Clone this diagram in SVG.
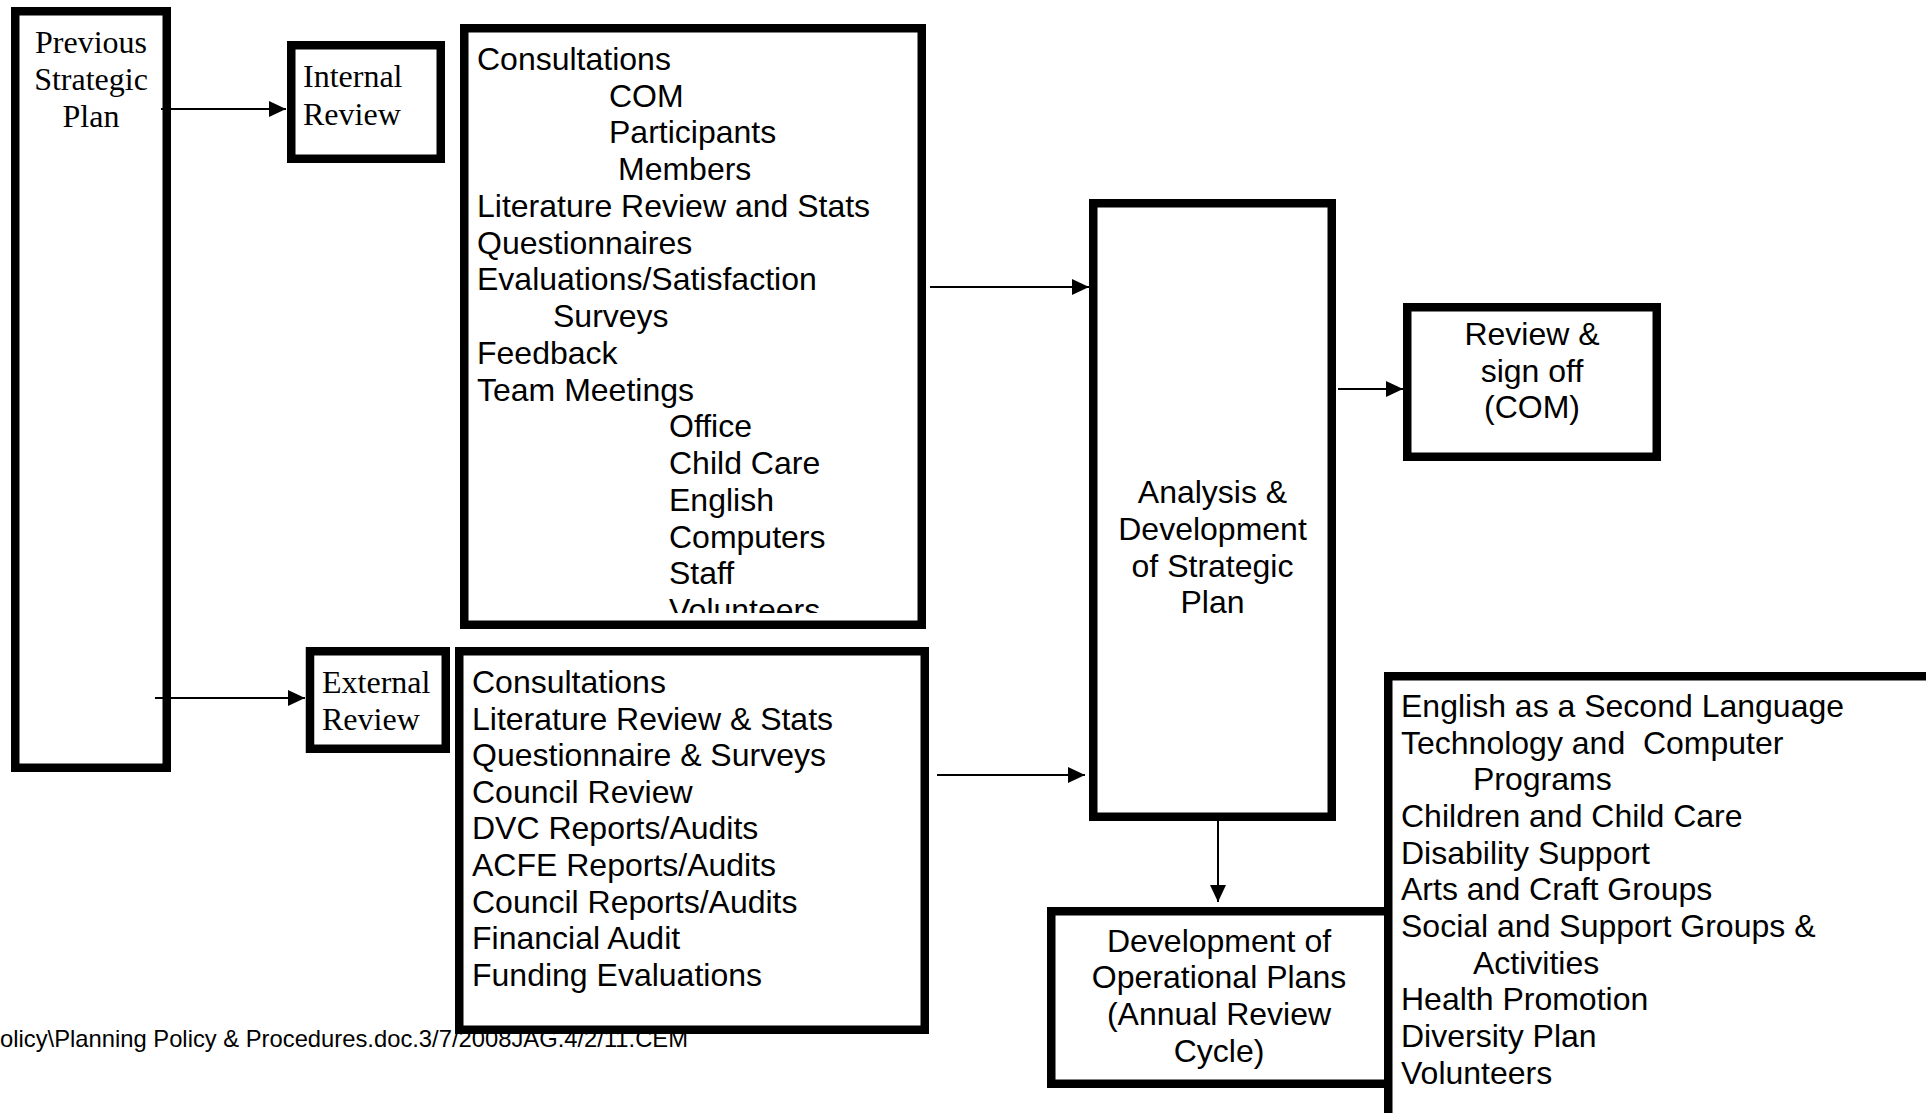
<svg xmlns="http://www.w3.org/2000/svg" width="1926" height="1113" viewBox="0 0 1926 1113">
<style>
.box{fill:#fff;stroke:#000;stroke-width:8.5}
.serif{font-family:"Liberation Serif","Times New Roman",serif;font-size:32px;fill:#000}
.sans{font-family:"Liberation Sans",Arial,sans-serif;font-size:32px;fill:#000}
.mid{text-anchor:middle}
.conn{stroke:#000;stroke-width:2;fill:none;marker-end:url(#arr)}
</style>
<defs>
<marker id="arr" markerUnits="userSpaceOnUse" markerWidth="17" markerHeight="16" refX="17" refY="8" orient="auto">
<path d="M0,0 L17,8 L0,16 z" fill="#000"/>
</marker>
<clipPath id="clipInt"><rect x="468" y="32" width="450" height="581"/></clipPath>
</defs>
<rect width="1926" height="1113" fill="#fff"/>

<g id="previous-plan">
<rect class="box" x="15.25" y="11.25" width="151.5" height="756.5"/>
<text class="serif mid"><tspan x="91" y="53">Previous</tspan><tspan x="91" y="90">Strategic</tspan><tspan x="91" y="127">Plan</tspan></text>
</g>

<g id="internal-review">
<rect class="box" x="291.25" y="45.25" width="149.5" height="113.5"/>
<text class="serif"><tspan x="303" y="87">Internal</tspan><tspan x="303" y="125">Review</tspan></text>
</g>

<g id="internal-list">
<rect class="box" x="464.25" y="28.25" width="457.5" height="596.5"/>
<text class="sans" clip-path="url(#clipInt)">
<tspan x="477" y="70">Consultations</tspan>
<tspan x="609" y="107">COM</tspan>
<tspan x="609" y="143">Participants</tspan>
<tspan x="618" y="180">Members</tspan>
<tspan x="477" y="217">Literature Review and Stats</tspan>
<tspan x="477" y="254">Questionnaires</tspan>
<tspan x="477" y="290">Evaluations/Satisfaction</tspan>
<tspan x="553" y="327">Surveys</tspan>
<tspan x="477" y="364">Feedback</tspan>
<tspan x="477" y="401">Team Meetings</tspan>
<tspan x="669" y="437">Office</tspan>
<tspan x="669" y="474">Child Care</tspan>
<tspan x="669" y="511">English</tspan>
<tspan x="669" y="548">Computers</tspan>
<tspan x="669" y="584">Staff</tspan>
<tspan x="669" y="621">Volunteers</tspan>
</text>
</g>

<g id="external-review">
<rect class="box" x="310" y="651.25" width="135.75" height="97.5"/>
<text class="serif"><tspan x="322" y="693">External</tspan><tspan x="322" y="730">Review</tspan></text>
</g>

<g id="external-list">
<rect class="box" x="459.25" y="651.25" width="465.5" height="378.5"/>
<text class="sans">
<tspan x="472" y="693">Consultations</tspan>
<tspan x="472" y="730">Literature Review &amp; Stats</tspan>
<tspan x="472" y="766">Questionnaire &amp; Surveys</tspan>
<tspan x="472" y="803">Council Review</tspan>
<tspan x="472" y="839">DVC Reports/Audits</tspan>
<tspan x="472" y="876">ACFE Reports/Audits</tspan>
<tspan x="472" y="913">Council Reports/Audits</tspan>
<tspan x="472" y="949">Financial Audit</tspan>
<tspan x="472" y="986">Funding Evaluations</tspan>
</text>
</g>

<g id="analysis">
<rect class="box" x="1093.25" y="203.25" width="238.5" height="613.5"/>
<text class="sans mid"><tspan x="1212.5" y="503">Analysis &amp;</tspan><tspan x="1212.5" y="540">Development</tspan><tspan x="1212.5" y="577">of Strategic</tspan><tspan x="1212.5" y="613">Plan</tspan></text>
</g>

<g id="review-signoff">
<rect class="box" x="1407.25" y="307.25" width="249.5" height="149.5"/>
<text class="sans mid"><tspan x="1532" y="345">Review &amp;</tspan><tspan x="1532" y="382">sign off</tspan><tspan x="1532" y="418">(COM)</tspan></text>
</g>

<g id="operational-plans">
<rect class="box" x="1051.25" y="911.25" width="337" height="172.5"/>
<text class="sans mid"><tspan x="1219" y="952">Development of</tspan><tspan x="1219" y="988">Operational Plans</tspan><tspan x="1219" y="1025">(Annual Review</tspan><tspan x="1219" y="1062">Cycle)</tspan></text>
</g>

<g id="program-list">
<rect class="box" x="1388.25" y="676.25" width="600" height="460"/>
<text class="sans">
<tspan x="1401" y="717">English as a Second Language</tspan>
<tspan x="1401" y="754">Technology and&#160; Computer</tspan>
<tspan x="1473" y="790">Programs</tspan>
<tspan x="1401" y="827">Children and Child Care</tspan>
<tspan x="1401" y="864">Disability Support</tspan>
<tspan x="1401" y="900">Arts and Craft Groups</tspan>
<tspan x="1401" y="937">Social and Support Groups &amp;</tspan>
<tspan x="1473" y="974">Activities</tspan>
<tspan x="1401" y="1010">Health Promotion</tspan>
<tspan x="1401" y="1047">Diversity Plan</tspan>
<tspan x="1401" y="1084">Volunteers</tspan>
</text>
</g>

<g id="connectors">
<line class="conn" x1="161" y1="109" x2="286" y2="109"/>
<line class="conn" x1="155" y1="698" x2="305" y2="698"/>
<line class="conn" x1="930" y1="287" x2="1089" y2="287"/>
<line class="conn" x1="1338" y1="389" x2="1403" y2="389"/>
<line class="conn" x1="937" y1="775" x2="1085" y2="775"/>
<line class="conn" x1="1218" y1="821" x2="1218" y2="902"/>
</g>

<g id="footer">
<text x="0" y="1047" font-family="'Liberation Sans', Arial, sans-serif" font-size="24" textLength="688" lengthAdjust="spacingAndGlyphs" fill="#000">olicy\Planning Policy &amp; Procedures.doc.3/7/2008JAG.4/2/11.CEM</text>
</g>
</svg>
